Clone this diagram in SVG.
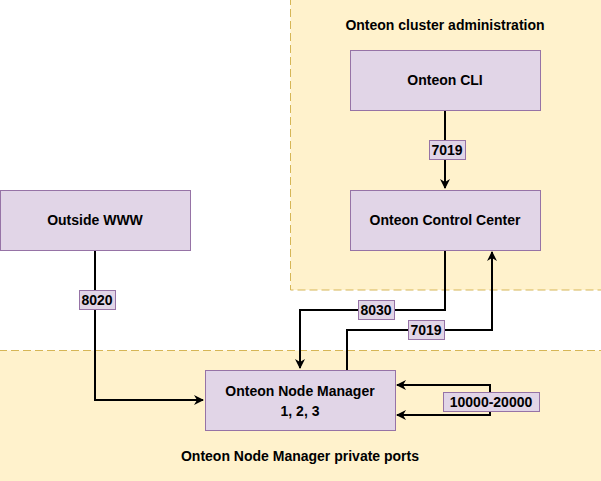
<svg xmlns="http://www.w3.org/2000/svg" width="601" height="481" viewBox="0 0 601 481">
<style>
.zone{fill:#fff2cc;stroke:#d6b656;stroke-dasharray:8 4}
.node{fill:#e1d5e7;stroke:#9673a6}
text{font-family:"Liberation Sans",Arial,sans-serif;font-weight:bold;font-size:14px;text-anchor:middle;fill:#000}
.c{fill:none;stroke:#000;stroke-width:2}
.lbl{fill:#e1d5e7;stroke:#9673a6}
</style>
<defs><marker id="a" viewBox="0 0 10 10" refX="9" refY="5" markerWidth="5" markerHeight="5" orient="auto"><path d="M0,0L10,5L0,10L3,5z" fill="#000"/></marker></defs>
<g id="zone-admin"><rect class="zone" x="290.5" y="-1" width="312" height="291"/><text x="445" y="30">Onteon cluster administration</text></g>
<g id="zone-private"><rect class="zone" x="-1" y="350.5" width="603" height="131"/><text x="300" y="461">Onteon Node Manager private ports</text></g>
<g id="cli"><rect class="node" x="350.5" y="50.5" width="190" height="60"/><text x="445" y="85">Onteon CLI</text></g>
<g id="cc"><rect class="node" x="350.5" y="190.5" width="190" height="60"/><text x="445" y="225">Onteon Control Center</text></g>
<g id="www"><rect class="node" x="0.5" y="190.5" width="190" height="60"/><text x="95" y="225">Outside WWW</text></g>
<g id="nm"><rect class="node" x="205.5" y="370.5" width="190" height="60"/><text x="300" y="396">Onteon Node Manager</text><text x="300" y="416">1, 2, 3</text></g>
<g id="connectors">
<path class="c" d="M445,111V188" marker-end="url(#a)"/>
<rect class="lbl" x="429.5" y="140.5" width="36" height="19"/><text x="447" y="155">7019</text>
<path class="c" d="M95,251V400H203" marker-end="url(#a)"/>
<rect class="lbl" x="79.5" y="290.5" width="36" height="19"/><text x="97" y="305">8020</text>
<path class="c" d="M445,251V310H300V368" marker-end="url(#a)"/>
<rect class="lbl" x="358.5" y="300.5" width="36" height="19"/><text x="376" y="315">8030</text>
<path class="c" d="M347,370V330H492V252" marker-end="url(#a)"/>
<rect class="lbl" x="408.5" y="320.5" width="36" height="19"/><text x="426" y="335">7019</text>
<path class="c" d="M490,400V385H397" marker-end="url(#a)"/>
<path class="c" d="M490,400V415H397" marker-end="url(#a)"/>
<rect class="lbl" x="443.5" y="392.5" width="96" height="19"/><text x="491" y="407">10000-20000</text>
</g>
</svg>
